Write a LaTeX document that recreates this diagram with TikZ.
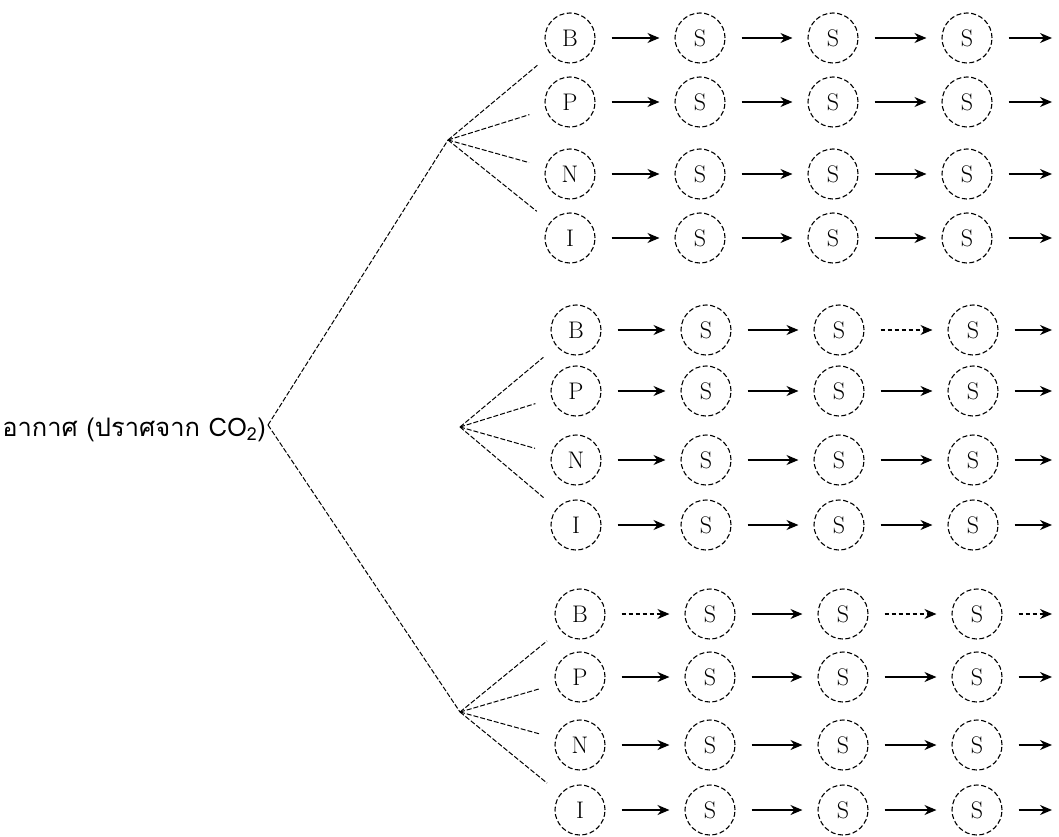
\documentclass[tikz,border=0pt]{standalone}
\usepackage{fontspec}
\newfontfamily\thaifont[Script=Thai]{Loma}
\usetikzlibrary{arrows.meta}
\tikzset{
  cnode/.style={circle, draw, line width=1.1pt, dash pattern=on 5pt off 2.5pt,
    minimum size=50pt, inner sep=0pt, font=\fontsize{24}{24}\selectfont},
  arr/.style={line width=1.4pt, -{Stealth[length=12pt,width=10pt]},
    shorten <=16pt, shorten >=15pt},
  lastarr/.style={line width=1.4pt, -{Stealth[length=12pt,width=10pt]},
    shorten <=16pt},
  dasharr/.style={dash pattern=on 4pt off 3pt},
  branch/.style={line width=1pt, dash pattern=on 5pt off 2pt, shorten >=17pt},
  rootline/.style={line width=1pt, dash pattern=on 5pt off 2pt},
}
\newcommand\chainrow[8]{%
  \node[cnode] (#1-0) at (570+#3,#4) {#2};
  \node[cnode] (#1-1) at (700+#3,#4) {S};
  \node[cnode] (#1-2) at (833+#3,#4) {S};
  \node[cnode] (#1-3) at (967+#3,#4) {S};
  \coordinate (#1-e) at (1052,#4);
  \draw[arr,#5] (#1-0) -- (#1-1);
  \draw[arr,#6] (#1-1) -- (#1-2);
  \draw[arr,#7] (#1-2) -- (#1-3);
  \draw[lastarr,#8] (#1-3) -- (#1-e);
}
\begin{document}
\begin{tikzpicture}[x=1pt,y=-1pt]
\useasboundingbox (0,0) rectangle (1059,837);
% root
\node[anchor=east, inner sep=0pt, font=\thaifont\fontsize{25.5}{30}\selectfont] (root) at (266,430) {อากาศ (ปราศจาก CO\textsubscript{2})};
\coordinate (rj) at (268,425);
\coordinate (b1) at (448,140);
\coordinate (b2) at (460,427);
\coordinate (b3) at (460,712);
\draw[rootline] (rj) -- (b1);
\draw[rootline] (rj) -- (b3);
% group 1
\chainrow{a1}{B}{0}{38}{solid}{solid}{solid}{solid}
\chainrow{a2}{P}{0}{102}{solid}{solid}{solid}{solid}
\chainrow{a3}{N}{0}{174}{solid}{solid}{solid}{solid}
\chainrow{a4}{I}{0}{238}{solid}{solid}{solid}{solid}
% group 2
\chainrow{b1r}{B}{6}{330}{solid}{solid}{dasharr}{solid}
\chainrow{b2r}{P}{6}{391}{solid}{solid}{solid}{solid}
\chainrow{b3r}{N}{6}{460}{solid}{solid}{solid}{solid}
\chainrow{b4r}{I}{6}{525}{solid}{solid}{solid}{solid}
% group 3
\chainrow{c1r}{B}{10}{614}{dasharr}{solid}{dasharr}{dasharr}
\chainrow{c2r}{P}{10}{677}{solid}{solid}{solid}{solid}
\chainrow{c3r}{N}{10}{745}{solid}{solid}{solid}{solid}
\chainrow{c4r}{I}{10}{810}{solid}{solid}{solid}{solid}
% branches
\foreach \r in {a1,a2,a3,a4} \draw[branch] (b1) -- (\r-0);
\foreach \r in {b1r,b2r,b3r,b4r} \draw[branch] (b2) -- (\r-0);
\foreach \r in {c1r,c2r,c3r,c4r} \draw[branch] (b3) -- (\r-0);
\end{tikzpicture}
\end{document}
